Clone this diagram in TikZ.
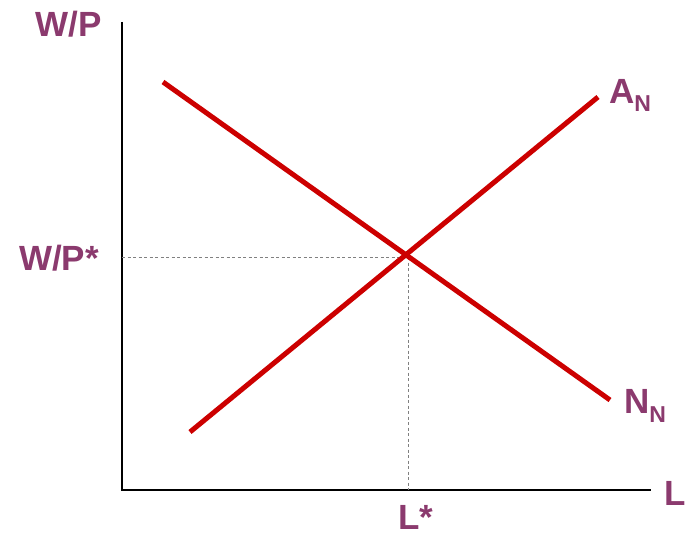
\documentclass[tikz,border=0pt]{standalone}
\usepackage{fontspec}
\setmainfont{Liberation Sans}
\usepackage{xcolor}
\usetikzlibrary{positioning}

\definecolor{labpurple}{HTML}{8B3A6E}
\definecolor{curvered}{HTML}{CC0000}

\newcommand{\subN}{\raisebox{-9pt}{\fontsize{23}{24}\selectfont N}}

\begin{document}
\begin{tikzpicture}[
    x=1pt, y=-1pt,
    lab/.style={text=labpurple, font=\fontsize{35}{38}\selectfont\bfseries, inner sep=0pt},
    axis/.style={line width=2pt, black},
    curve/.style={line width=5pt, curvered},
    guide/.style={line width=0.8pt, gray, dash pattern=on 3pt off 2.5pt},
]
\useasboundingbox (0,0) rectangle (686,535);

% --- Axes ---
\coordinate (origin) at (122, 490);
\coordinate (ytop) at (122, 22);
\coordinate (xend) at (651, 490);
\draw[axis] (ytop) -- (origin) -- (xend);

% --- Courbes ---
\coordinate (nstart) at (163, 82);
\coordinate (nend) at (610, 400);
\coordinate (astart) at (190, 432);
\coordinate (aend) at (598, 97);
\coordinate (eq) at (408, 257);

% --- Pointillés vers l'équilibre ---
\coordinate (weq) at (122, 257);
\coordinate (leq) at (408, 490);
\draw[guide] (weq) -- (eq);
\draw[guide] (eq) -- (leq);

\draw[curve] (nstart) -- (nend);
\draw[curve] (astart) -- (aend);

% --- Étiquettes ---
\node[lab] (wp) at (69, 24) {W/P};
\node[lab] (wpstar) at (59, 258) {W/P*};
\node[lab, anchor=base west] (an) at (609, 103) {A\subN};
\node[lab, anchor=base west] (nn) at (624, 413) {N\subN};
\node[lab, anchor=base west] (lx) at (664, 505) {L};
\node[lab, anchor=base] (lstar) at (416, 529) {L*};

\end{tikzpicture}
\end{document}
